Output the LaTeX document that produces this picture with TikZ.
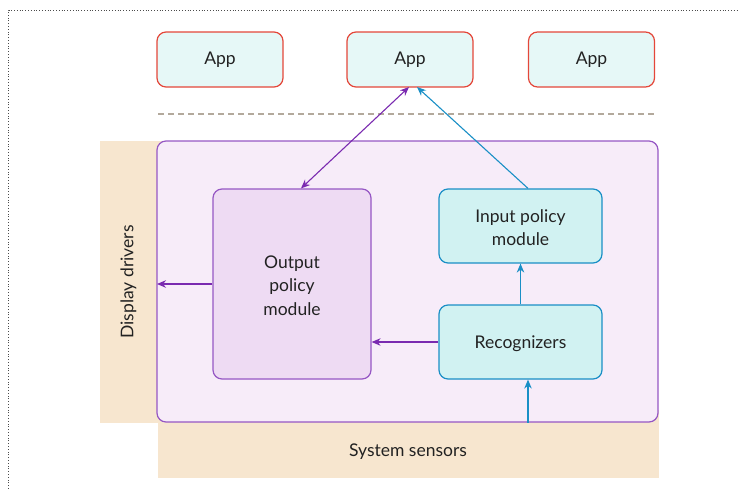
\documentclass[tikz,border=0pt]{standalone}
\usepackage{fontspec}
\setmainfont{Lato}
\usetikzlibrary{arrows.meta}
\definecolor{appfill}{HTML}{E6F8F7}
\definecolor{appline}{HTML}{E4473A}
\definecolor{sepline}{HTML}{B3A99C}
\definecolor{outerfill}{HTML}{F7ECF9}
\definecolor{outerline}{HTML}{9657C4}
\definecolor{outfill}{HTML}{EEDBF3}
\definecolor{inline}{HTML}{1A8FC6}
\definecolor{infill}{HTML}{D1F2F2}
\definecolor{bandfill}{HTML}{F7E6CF}
\definecolor{purplearrow}{HTML}{7A2AB0}
\definecolor{textcol}{HTML}{222222}
\tikzset{
  every node/.style={text=textcol, font=\fontsize{17.5}{23.5}\selectfont},
  lbl/.style={text depth=0pt},
  appbox/.style={draw=appline, fill=appfill, line width=1.2pt, rounded corners=9pt},
  outerbox/.style={draw=outerline, fill=outerfill, line width=1.2pt, rounded corners=9pt},
  outmod/.style={draw=outerline, fill=outfill, line width=1.2pt, rounded corners=9pt},
  inmod/.style={draw=inline, fill=infill, line width=1.2pt, rounded corners=9pt},
  band/.style={fill=bandfill, draw=none},
  parrow/.style={draw=purplearrow, line width=1.1pt, -{Stealth[length=9pt,width=7.5pt]}},
  barrow/.style={draw=inline, line width=1.1pt, -{Stealth[length=9pt,width=7.5pt]}},
}
\begin{document}
\begin{tikzpicture}[x=1pt,y=-1pt]
\useasboundingbox (0,0) rectangle (738,490);
% frame around the figure
\draw[black!70, dotted, line width=0.8pt] (8.5,500) -- (8.5,10) -- (750,10);
% applications
\node[appbox, minimum width=126pt, minimum height=55pt] (app1) at (220,59.5) {App};
\node[appbox, minimum width=126pt, minimum height=55pt] (app2) at (410,59.5) {App};
\node[appbox, minimum width=126pt, minimum height=55pt] (app3) at (591.5,59.5) {App};
% separator between applications and system
\coordinate (sepL) at (158,114);
\coordinate (sepR) at (654,114);
\draw[sepline, dashed, dash pattern=on 6pt off 4pt, line width=1.5pt] (sepL) -- (sepR);
% bands for drivers and sensors
\fill[band] (100,141) rectangle (170,423);
\fill[band] (158,410) rectangle (659,478);
\node[rotate=90] (drivers) at (128.5,282) {Display drivers};
\node (sensors) at (408,452) {System sensors};
% system container
\node[outerbox, minimum width=501pt, minimum height=281pt] (sys) at (407.5,281.5) {};
% modules
\node[outmod, minimum width=158pt, minimum height=190pt, align=center] (outm) at (292,284) {};
\node[align=center] (outmText) at (292,285.5) {Output\\policy\\module};
\node[inmod, minimum width=163pt, minimum height=74pt] (inm) at (520.5,226) {};
\node[align=center] (inmText) at (520.5,227.5) {Input policy\\module};
\node[inmod, minimum width=163pt, minimum height=74pt] (rec) at (520.5,342) {};
\node (recText) at (520.5,343.5) {Recognizers};
% connectors
\coordinate (appOut) at (409,87);
\coordinate (appIn) at (417,87);
\coordinate (drvIn) at (157,284);
\draw[parrow, {Stealth[length=9pt,width=7.5pt]}-{Stealth[length=9pt,width=7.5pt]}] (outm.north -| 301,0) -- (appOut);
\draw[barrow] (inm.north -| 528,0) -- (appIn);
\draw[parrow] (outm.west |- drvIn) -- (drvIn);
\draw[parrow] (rec.west) -- (outm.east |- rec.west);
\draw[barrow] (rec.north) -- (inm.south);
\draw[barrow] (sys.south -| 528,0) -- (rec.south -| 528,0);
\end{tikzpicture}
\end{document}
